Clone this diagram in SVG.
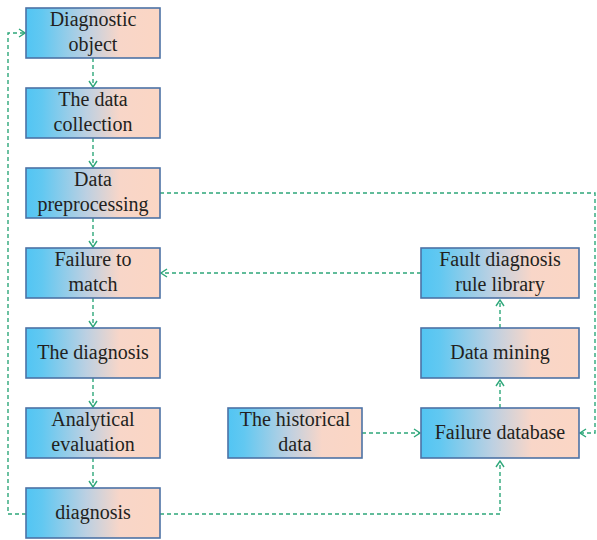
<svg xmlns="http://www.w3.org/2000/svg" xmlns:xlink="http://www.w3.org/1999/xlink" width="597" height="540" viewBox="0 0 597 540">
  <defs>
    <linearGradient id="boxFill" x1="0" y1="0" x2="1" y2="0">
      <stop offset="0" stop-color="#52c5f3"/>
      <stop offset="0.12" stop-color="#62c8f1"/>
      <stop offset="0.45" stop-color="#bcd0e2"/>
      <stop offset="0.7" stop-color="#f8d6c8"/>
      <stop offset="1" stop-color="#fbd6c4"/>
    </linearGradient>
    <!-- the two box sizes used by the nodes -->
    <rect id="boxS" width="134" height="50" fill="url(#boxFill)" stroke="#4d72a6" stroke-width="1.6"/>
    <rect id="boxL" width="158" height="50" fill="url(#boxFill)" stroke="#4d72a6" stroke-width="1.6"/>
    <marker id="arrow" viewBox="0 0 10 10" refX="9" refY="5" markerWidth="10" markerHeight="10" markerUnits="userSpaceOnUse" orient="auto">
      <path d="M3,1 L9,5 L3,9" fill="none" stroke="#2ea77a" stroke-width="1.4"/>
    </marker>
  </defs>

  <!-- connectors -->
  <g id="connectors" fill="none" stroke="#2ea77a" stroke-width="1.4" stroke-dasharray="4 3">
    <path d="M93,58 V87" marker-end="url(#arrow)"/>
    <path d="M93,138 V167" marker-end="url(#arrow)"/>
    <path d="M93,218 V247" marker-end="url(#arrow)"/>
    <path d="M93,298 V327" marker-end="url(#arrow)"/>
    <path d="M93,378 V407" marker-end="url(#arrow)"/>
    <path d="M93,458 V487" marker-end="url(#arrow)"/>
    <!-- feedback loop back to the start -->
    <path d="M26,514 H8 V33 H25" marker-end="url(#arrow)"/>
    <!-- preprocessing feeds the failure database -->
    <path d="M160,193 H595 V433 H580" marker-end="url(#arrow)"/>
    <!-- rule library back to matching -->
    <path d="M421,273 H161" marker-end="url(#arrow)"/>
    <path d="M500,328 V300" marker-end="url(#arrow)"/>
    <path d="M500,408 V380" marker-end="url(#arrow)"/>
    <path d="M362,433 H420" marker-end="url(#arrow)"/>
    <path d="M160,514 H500 V461" marker-end="url(#arrow)"/>
  </g>

  <g id="nodes" font-family="Liberation Serif" font-size="20" fill="#231f20" text-anchor="middle">
    <g id="diagnostic-object">
      <use xlink:href="#boxS" x="26" y="8"/>
      <text x="93" y="26">Diagnostic</text>
      <text x="93" y="51">object</text>
    </g>
    <g id="data-collection">
      <use xlink:href="#boxS" x="26" y="88"/>
      <text x="93" y="106">The data</text>
      <text x="93" y="131">collection</text>
    </g>
    <g id="data-preprocessing">
      <use xlink:href="#boxS" x="26" y="168"/>
      <text x="93" y="186">Data</text>
      <text x="93" y="211">preprocessing</text>
    </g>
    <g id="failure-to-match">
      <use xlink:href="#boxS" x="26" y="248"/>
      <text x="93" y="266">Failure to</text>
      <text x="93" y="291">match</text>
    </g>
    <g id="the-diagnosis">
      <use xlink:href="#boxS" x="26" y="328"/>
      <text x="93" y="359">The diagnosis</text>
    </g>
    <g id="analytical-evaluation">
      <use xlink:href="#boxS" x="26" y="408"/>
      <text x="93" y="426">Analytical</text>
      <text x="93" y="451">evaluation</text>
    </g>
    <g id="diagnosis">
      <use xlink:href="#boxS" x="26" y="488"/>
      <text x="93" y="519">diagnosis</text>
    </g>

    <g id="rule-library">
      <use xlink:href="#boxL" x="421" y="248"/>
      <text x="500" y="266">Fault diagnosis</text>
      <text x="500" y="291">rule library</text>
    </g>
    <g id="data-mining">
      <use xlink:href="#boxL" x="421" y="328"/>
      <text x="500" y="359">Data mining</text>
    </g>
    <g id="historical-data">
      <use xlink:href="#boxS" x="228" y="408"/>
      <text x="295" y="426">The historical</text>
      <text x="295" y="451">data</text>
    </g>
    <g id="failure-database">
      <use xlink:href="#boxL" x="421" y="408"/>
      <text x="500" y="439">Failure database</text>
    </g>
  </g>
</svg>
